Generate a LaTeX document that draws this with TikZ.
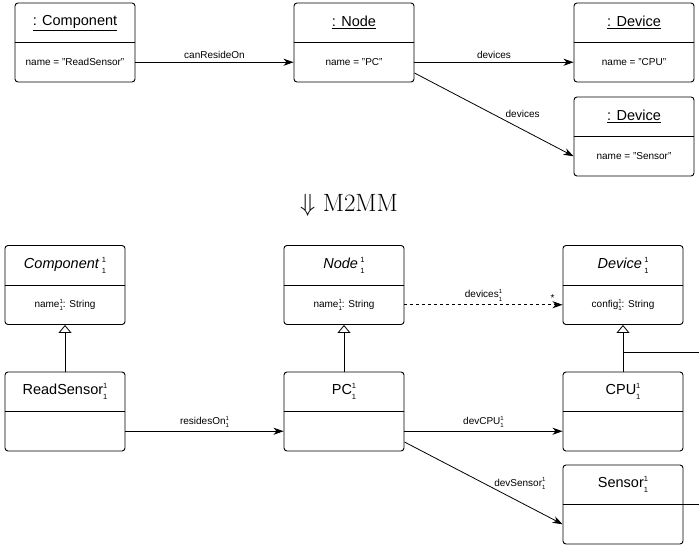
\documentclass[tikz,border=0pt]{standalone}
\usepackage{fontspec}
\setmainfont{Liberation Sans}
\newfontfamily\lmroman{Latin Modern Roman}
\usetikzlibrary{arrows.meta}

% stacked multiplicity indices (superscript 1 over subscript 1)
% #1 digit size, #2 raise of the upper digit, #3 raise of the lower digit
\newcommand\idxone[3]{{\fontsize{#1}{#1}\selectfont\makebox[0pt][l]{\raisebox{#2}{1}}\raisebox{#3}{1}}}
\newcommand\bigidx{\idxone{7.5}{0.8em}{-0.7em}}
\newcommand\smallidx{\idxone{6}{0.7em}{-0.55em}}

\tikzset{
  umlbox/.style={draw, rounded corners=3pt, minimum width=120pt, minimum height=79pt,
                 inner sep=0pt, line width=0.9pt},
  titletext/.style={font=\fontsize{14.5}{16}\selectfont, inner sep=0pt},
  attrtext/.style={font=\fontsize{10}{12}\selectfont, inner sep=0pt},
  lbl/.style={font=\fontsize{10}{12}\selectfont},
  assoc/.style={-{Stealth[length=10pt,width=7pt,inset=3pt]}, line width=0.8pt},
  gen/.style={-{Triangle[open,length=8pt,width=13pt]}, line width=0.8pt},
}

% box with a title compartment and an attribute compartment
% #1 name, #2 x, #3 y, #4 title, #5 attribute
\newcommand\umlobj[5]{%
  \node[umlbox] (#1) at (#2,#3) {};
  \draw[line width=0.9pt] (#1.west) -- (#1.east);
  \node[titletext] (#1-t) at ([yshift=19.75pt]#1.center) {#4};
  \node[attrtext] (#1-a) at ([yshift=-19.75pt]#1.center) {#5};
}

\begin{document}
\begin{tikzpicture}[x=1pt, y=-1pt]
\useasboundingbox (0,0) rectangle (699,545);

% ---------- object level ----------
\umlobj{oComp}{75}{42.5}{\underline{: Component}}{name = "ReadSensor"}
\umlobj{oNode}{354}{42.5}{\underline{: Node}}{name = "PC"}
\umlobj{oCpu}{634}{42.5}{\underline{: Device}}{name = "CPU"}
\umlobj{oSensor}{634}{136.5}{\underline{: Device}}{name = "Sensor"}

\draw[assoc] (oComp.east |- oComp-a) -- (oNode.west |- oNode-a)
  node[midway, above, lbl] {canResideOn};
\draw[assoc] (oNode.east |- oNode-a) -- (oCpu.west |- oCpu-a)
  node[midway, above, lbl] {devices};
\draw[assoc] ([yshift=-30.5pt]oNode.east) -- (oSensor.west |- oSensor-a)
  node[pos=0.68, above=8pt, lbl] {devices};

% ---------- transformation ----------
\node[font=\lmroman\fontsize{25}{29}\selectfont] (m2mm) at (349,205) {$\Downarrow$ M2MM};

% ---------- model level ----------
\umlobj{cComp}{65}{285}{\textit{Component}\,\bigidx}{name\smallidx: String}
\umlobj{cNode}{344}{285}{\textit{Node}\,\bigidx}{name\smallidx: String}
\umlobj{cDev}{623}{285}{\textit{Device}\,\bigidx}{config\smallidx: String}

\umlobj{iRead}{65}{411.5}{ReadSensor\bigidx}{}
\umlobj{iPc}{344}{411.5}{PC\bigidx}{}
\umlobj{iCpu}{623}{411.5}{CPU\bigidx}{}
\umlobj{iSensor}{623}{504.5}{Sensor\bigidx}{}

\draw[assoc, dashed] (cNode.east |- cNode-a) -- (cDev.west |- cDev-a)
  node[midway, above, lbl] {devices\smallidx}
  node[pos=1, above, xshift=-10pt, lbl] {*};

\draw[gen] (iRead.north) -- (cComp.south);
\draw[gen] (iPc.north) -- (cNode.south);
\draw[gen] (iCpu.north) -- (cDev.south);

\coordinate (edgeA) at (699,352);
\coordinate (edgeB) at (699,504.5);
\draw[line width=0.8pt] (iCpu.north |- edgeA) -- (edgeA);
\draw[line width=0.8pt] (iSensor.east) -- (edgeB);

\draw[assoc] (iRead.east |- iRead-a) -- (iPc.west |- iPc-a)
  node[midway, above, lbl] {residesOn\smallidx};
\draw[assoc] (iPc.east |- iPc-a) -- (iCpu.west |- iCpu-a)
  node[midway, above, lbl] {devCPU\smallidx};
\draw[assoc] ([yshift=-30.5pt]iPc.east) -- (iSensor.west |- iSensor-a)
  node[pos=0.73, above=9pt, lbl] {devSensor\smallidx};
\end{tikzpicture}
\end{document}
